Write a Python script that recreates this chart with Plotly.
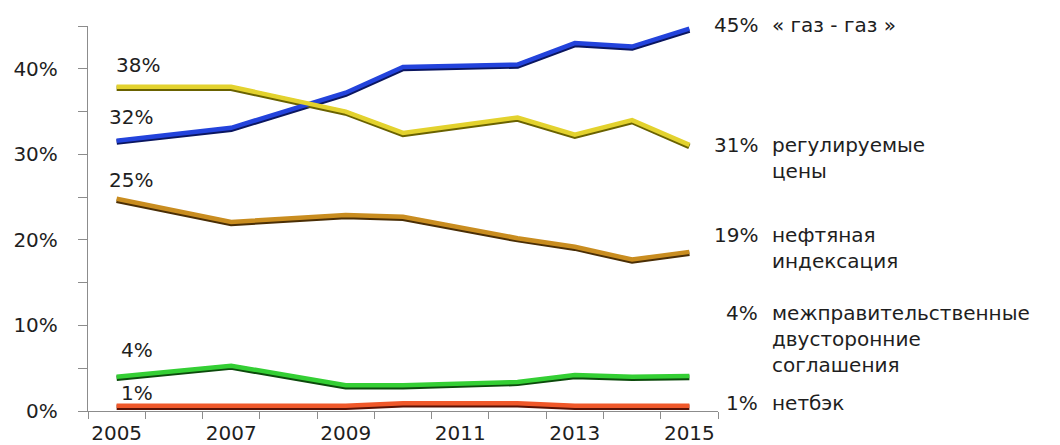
import plotly.graph_objects as go

# Survey years and price-formation shares (% of world gas consumption)
years = [2005, 2007, 2009, 2010, 2012, 2013, 2014, 2015]
gas_to_gas = [31.6, 33.1, 37.2, 40.2, 40.5, 43.0, 42.6, 44.7]
regulated = [37.9, 37.9, 35.0, 32.5, 34.3, 32.3, 34.0, 31.1]
oil_indexed = [24.8, 22.1, 22.9, 22.7, 20.2, 19.2, 17.7, 18.6]
bilateral = [4.0, 5.3, 3.0, 3.0, 3.4, 4.2, 4.0, 4.1]
netback = [0.6, 0.6, 0.6, 0.9, 0.9, 0.6, 0.6, 0.6]

series_names = [
    "« газ - газ »",
    "регулируемые<br>цены",
    "нефтяная<br>индексация",
    "межправительственные<br>двусторонние<br>соглашения",
    "нетбэк",
]
series_values = [gas_to_gas, regulated, oil_indexed, bilateral, netback]

y_tick_vals = [0, 10, 20, 30, 40]
y_tick_text = ["0%", "10%", "20%", "30%", "40%"]
x_tick_vals = [2005, 2007, 2009, 2011, 2013, 2015]
x_tick_text = ["2005", "2007", "2009", "2011", "2013", "2015"]

# Styling
line_colors = ["#2343dc", "#e3d22e", "#c98d20", "#34cf34", "#f0582a"]
shadow_colors = ["#0b1660", "#6a6200", "#4a2e05", "#0c4a0c", "#5a1205"]
FONT = "DejaVu Sans, Arial, sans-serif"
AXIS_COLOR = "#8c8c8c"
TEXT_COLOR = "#1e1e1e"
Y_RANGE = [0, 45]
SHADOW_SHIFT = 0.17  # in % units, roughly 1.5 px downward

fig = go.Figure()

# Dark under-stroke on a slightly shifted twin axis gives each line its shadow
for vals, sc in zip(series_values, shadow_colors):
    fig.add_trace(go.Scatter(
        x=years, y=vals, mode="lines", yaxis="y2",
        line=dict(color=sc, width=5.5), hoverinfo="skip", showlegend=False,
    ))
# Coloured strokes on a third overlaid axis so they are painted above the shadows
for vals, c in zip(series_values, line_colors):
    fig.add_trace(go.Scatter(
        x=years, y=vals, mode="lines", yaxis="y3",
        line=dict(color=c, width=4.5), showlegend=False,
    ))

# Start-of-period value labels (placement offsets in pixels)
start_offsets = [(38, 24), (45, 22), (38, 19), (38, 27), (38, 13)]
for vals, (dx, dy) in zip(series_values, start_offsets):
    fig.add_annotation(
        x=years[0], y=vals[0], xref="x", yref="y",
        text=f"{round(vals[0])}%", showarrow=False,
        xanchor="right", yanchor="middle", xshift=dx, yshift=dy,
        font=dict(family=FONT, size=20, color=TEXT_COLOR),
    )

# End-of-period value labels and series names on the right
label_rows_px = [25, 145, 235, 313, 403]
PLOT_TOP, PLOT_BOTTOM = 26, 411
for vals, name, py in zip(series_values, series_names, label_rows_px):
    yp = (PLOT_BOTTOM - py) / (PLOT_BOTTOM - PLOT_TOP)
    fig.add_annotation(
        x=1.0667, y=yp, xref="paper", yref="paper",
        text=f"{round(vals[-1])}%", showarrow=False,
        xanchor="right", yanchor="middle",
        font=dict(family=FONT, size=20, color=TEXT_COLOR),
    )
    fig.add_annotation(
        x=1.082, y=yp, xref="paper", yref="paper",
        text=name, showarrow=False, align="left",
        xanchor="left", yanchor="top", yshift=14,
        font=dict(family=FONT, size=20, color=TEXT_COLOR),
    )

fig.update_layout(
    width=1060, height=445,
    margin=dict(l=88, r=342, t=26, b=34),
    paper_bgcolor="white", plot_bgcolor="white",
    xaxis=dict(
        range=[2004.5, 2015.5], tickmode="array", automargin=False,
        tickvals=x_tick_vals, ticktext=x_tick_text,
        ticks="", showgrid=False, zeroline=False,
        showline=True, linecolor=AXIS_COLOR, linewidth=1.3,
        ticklabelstandoff=4,
        tickfont=dict(family=FONT, size=20, color=TEXT_COLOR),
        minor=dict(tickvals=[2004.5 + i for i in range(12)], ticks="outside",
                   ticklen=7, tickwidth=1.3, tickcolor=AXIS_COLOR, showgrid=False),
    ),
    yaxis=dict(
        range=Y_RANGE, tickmode="array", automargin=False,
        tickvals=y_tick_vals, ticktext=y_tick_text,
        ticks="outside", ticklen=9, tickwidth=1.3, tickcolor=AXIS_COLOR,
        showgrid=False, zeroline=False,
        showline=True, linecolor=AXIS_COLOR, linewidth=1.3,
        ticklabelstandoff=16,
        tickfont=dict(family=FONT, size=20, color=TEXT_COLOR),
        minor=dict(tickvals=[5, 15, 25, 35, 45], ticks="outside",
                   ticklen=9, tickwidth=1.3, tickcolor=AXIS_COLOR, showgrid=False),
    ),
    yaxis2=dict(range=[Y_RANGE[0] + SHADOW_SHIFT, Y_RANGE[1] + SHADOW_SHIFT],
                overlaying="y", visible=False, automargin=False),
    yaxis3=dict(range=Y_RANGE, overlaying="y", visible=False, automargin=False),
)

fig.write_html("out.html")
